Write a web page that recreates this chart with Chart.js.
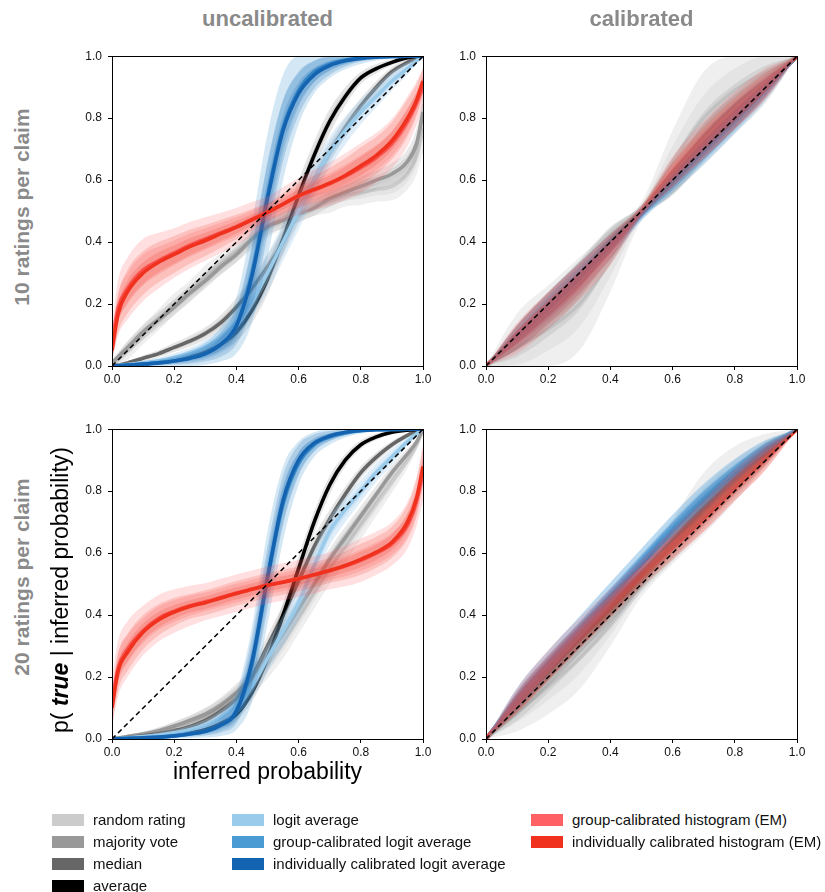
<!DOCTYPE html>
<html><head><meta charset="utf-8">
<script src="https://cdn.jsdelivr.net/npm/chart.js@4.4.1/dist/chart.umd.min.js"></script>
<style>
body{margin:0;width:825px;height:892px;background:#fff;position:relative;overflow:hidden;font-family:"Liberation Sans",Arial,Helvetica,sans-serif;}
canvas{position:absolute;}
.t{position:absolute;white-space:nowrap;}
.title{font-weight:bold;font-size:22px;line-height:22px;color:#8a8a8a;text-align:center;width:311px;top:8px;}
.rot{transform:translate(-50%,-50%) rotate(-90deg);}
.row{font-weight:bold;font-size:21px;line-height:21px;color:#8a8a8a;}
.axl{font-size:23px;line-height:23px;color:#000;}
.sw{position:absolute;width:32px;height:12px;}
.lt{position:absolute;font-size:15px;line-height:15px;color:#111;white-space:nowrap;}
</style></head><body>
<canvas id="c1" width="375" height="351" style="left:62px;top:43px"></canvas>
<canvas id="c2" width="375" height="351" style="left:436px;top:43px"></canvas>
<canvas id="c3" width="375" height="351" style="left:62px;top:416px"></canvas>
<canvas id="c4" width="375" height="351" style="left:436px;top:416px"></canvas>

<div class="t title" style="left:112px">uncalibrated</div>
<div class="t title" style="left:486px">calibrated</div>
<div class="t row rot" style="left:21px;top:207px">10 ratings per claim</div>
<div class="t row rot" style="left:21px;top:577px">20 ratings per claim</div>
<div class="t axl rot" style="left:60px;top:590px">p( <b><i>true</i></b> | inferred probability)</div>
<div class="t axl" style="left:112px;width:311px;text-align:center;top:760px">inferred probability</div>
<div id="legend"></div>

<script>
// ---------- categories / legend ----------
const SERIES_LABELS = ['random rating','majority vote','median','average','logit average','group-calibrated logit average','individually calibrated logit average','group-calibrated histogram (EM)','individually calibrated histogram (EM)'];
const SERIES_COLORS = ['#cccccc','#999999','#666666','#000000','#9acbeb','#4a9ad4','#1463b0','#ff6066','#f0311e'];
const BAND_ALPHA   = [0.32,0.22,0.16,0.1,0.32,0.24,0.2,0.2,0.18];
const TICK_VALUES = [0, 0.2, 0.4, 0.6, 0.8, 1.0];
const DIAG_X = [0, 1];
const DIAG_Y = [0, 1];

// ---------- x grids ----------
const XU = [0,0.02,0.05,0.1,0.15,0.2,0.25,0.3,0.35,0.4,0.45,0.5,0.55,0.6,0.65,0.7,0.75,0.8,0.85,0.9,0.95,0.98,1];
const XC = [0,0.1,0.2,0.3,0.4,0.5,0.6,0.7,0.8,0.9,1];

// ---------- panel A: 10 ratings, uncalibrated ----------
const A_random = [0,0.02,0.05,0.1,0.15,0.2,0.24,0.29,0.33,0.37,0.41,0.45,0.48,0.5,0.52,0.53,0.55,0.56,0.57,0.58,0.62,0.68,0.77];
const A_major  = [0.01,0.03,0.06,0.11,0.15,0.19,0.235,0.275,0.32,0.36,0.41,0.45,0.47,0.49,0.51,0.54,0.56,0.58,0.6,0.62,0.66,0.72,0.82];
const A_median = [0,0.003,0.01,0.025,0.04,0.06,0.08,0.105,0.14,0.19,0.25,0.32,0.4,0.5,0.6,0.69,0.77,0.84,0.9,0.95,0.98,0.995,1];
const A_avg    = [0,0.001,0.003,0.007,0.012,0.02,0.03,0.045,0.07,0.11,0.18,0.28,0.41,0.55,0.68,0.79,0.87,0.93,0.96,0.98,0.995,0.999,1];
const A_logit  = [0,0.002,0.005,0.01,0.017,0.027,0.04,0.06,0.09,0.14,0.21,0.3,0.4,0.5,0.6,0.69,0.76,0.82,0.87,0.92,0.96,0.985,1];
const A_glogit = [0,0.001,0.003,0.006,0.01,0.016,0.025,0.04,0.07,0.13,0.3,0.55,0.77,0.89,0.95,0.975,0.988,0.995,0.998,0.999,1,1,1];
const A_ilogit = [0,0.001,0.003,0.006,0.01,0.016,0.025,0.04,0.07,0.13,0.29,0.54,0.76,0.88,0.94,0.97,0.985,0.993,0.997,0.999,1,1,1];
const A_ghist  = [0.08,0.19,0.25,0.31,0.34,0.365,0.39,0.41,0.43,0.45,0.474,0.497,0.522,0.548,0.568,0.588,0.612,0.64,0.673,0.718,0.79,0.85,0.9];
const A_ihist  = [0.05,0.17,0.24,0.3,0.335,0.36,0.385,0.405,0.427,0.448,0.472,0.496,0.523,0.55,0.57,0.59,0.615,0.646,0.68,0.727,0.8,0.86,0.92];
const A_random_s = [0.01,0.02,0.03,0.03,0.035,0.035,0.035,0.035,0.035,0.035,0.035,0.035,0.035,0.035,0.035,0.035,0.035,0.04,0.04,0.045,0.05,0.06,0.08];
const A_major_s  = [0.01,0.015,0.02,0.025,0.025,0.025,0.025,0.025,0.025,0.025,0.025,0.025,0.025,0.025,0.025,0.025,0.025,0.03,0.03,0.035,0.04,0.05,0.06];
const A_median_s = [0,0.003,0.006,0.01,0.012,0.015,0.018,0.02,0.025,0.03,0.035,0.04,0.04,0.04,0.04,0.035,0.03,0.025,0.02,0.015,0.01,0.005,0];
const A_avg_s    = [0,0.001,0.002,0.004,0.006,0.008,0.01,0.014,0.02,0.03,0.04,0.05,0.05,0.05,0.045,0.04,0.03,0.02,0.015,0.01,0.005,0.002,0];
const A_logit_s  = [0,0.002,0.004,0.007,0.01,0.014,0.018,0.024,0.03,0.04,0.05,0.06,0.06,0.06,0.055,0.05,0.045,0.04,0.035,0.03,0.02,0.01,0];
const A_glogit_s = [0,0.002,0.004,0.008,0.012,0.018,0.026,0.036,0.055,0.09,0.16,0.2,0.17,0.11,0.07,0.045,0.03,0.02,0.012,0.007,0.003,0.001,0];
const A_ilogit_s = [0,0.001,0.003,0.005,0.008,0.012,0.018,0.025,0.04,0.06,0.1,0.12,0.1,0.07,0.045,0.03,0.018,0.01,0.006,0.004,0.002,0.001,0];
const A_ghist_s  = [0.06,0.09,0.1,0.1,0.09,0.08,0.075,0.07,0.065,0.06,0.055,0.05,0.055,0.06,0.065,0.07,0.075,0.08,0.08,0.08,0.08,0.07,0.06];
const A_ihist_s  = [0.04,0.06,0.07,0.07,0.065,0.06,0.055,0.05,0.045,0.04,0.035,0.03,0.035,0.04,0.045,0.05,0.055,0.06,0.06,0.06,0.06,0.05,0.04];

// ---------- panel B: 10 ratings, calibrated ----------
const B_random = [0,0.06,0.12,0.2,0.34,0.5,0.66,0.8,0.89,0.95,1];
const B_major  = [0,0.08,0.165,0.26,0.39,0.5,0.61,0.74,0.84,0.92,1];
const B_median = [0,0.09,0.18,0.275,0.395,0.5,0.605,0.725,0.82,0.91,1];
const B_avg    = [0,0.1,0.19,0.29,0.4,0.5,0.6,0.71,0.81,0.9,1];
const B_logit  = [0,0.095,0.19,0.287,0.386,0.49,0.595,0.698,0.797,0.895,1];
const B_glogit = [0,0.094,0.188,0.285,0.385,0.49,0.597,0.7,0.8,0.897,1];
const B_ilogit = [0,0.096,0.192,0.29,0.39,0.492,0.594,0.695,0.795,0.895,1];
const B_ghist  = [0,0.09,0.18,0.273,0.375,0.5,0.627,0.73,0.825,0.912,1];
const B_ihist  = [0,0.093,0.186,0.28,0.385,0.5,0.618,0.722,0.816,0.906,1];
const B_random_s = [0,0.11,0.14,0.15,0.1,0.03,0.1,0.15,0.14,0.1,0];
const B_major_s  = [0,0.05,0.07,0.08,0.06,0.02,0.06,0.08,0.07,0.05,0];
const B_median_s = [0,0.04,0.06,0.06,0.05,0.02,0.05,0.06,0.06,0.04,0];
const B_avg_s    = [0,0.03,0.04,0.04,0.03,0.015,0.03,0.04,0.04,0.03,0];
const B_logit_s  = [0,0.03,0.04,0.04,0.03,0.02,0.03,0.04,0.04,0.03,0];
const B_glogit_s = [0,0.04,0.05,0.05,0.04,0.02,0.04,0.05,0.05,0.04,0];
const B_ilogit_s = [0,0.02,0.03,0.03,0.025,0.015,0.025,0.03,0.03,0.02,0];
const B_ghist_s  = [0,0.05,0.06,0.06,0.05,0.02,0.05,0.06,0.06,0.05,0];
const B_ihist_s  = [0,0.04,0.05,0.05,0.04,0.015,0.04,0.05,0.05,0.04,0];

// ---------- panel C: 20 ratings, uncalibrated ----------
const C_random = [0,0.003,0.008,0.015,0.025,0.04,0.055,0.075,0.1,0.135,0.18,0.24,0.31,0.39,0.47,0.55,0.62,0.69,0.76,0.83,0.9,0.95,1];
const C_major  = [0,0.003,0.008,0.016,0.027,0.042,0.06,0.08,0.11,0.15,0.2,0.27,0.34,0.42,0.5,0.58,0.65,0.72,0.79,0.86,0.92,0.96,1];
const C_median = [0,0.002,0.005,0.01,0.017,0.027,0.04,0.06,0.09,0.13,0.2,0.3,0.4,0.51,0.62,0.71,0.79,0.86,0.91,0.95,0.98,0.995,1];
const C_avg    = [0,0.001,0.002,0.004,0.007,0.012,0.02,0.03,0.05,0.08,0.15,0.26,0.4,0.55,0.7,0.82,0.9,0.95,0.975,0.99,0.997,0.999,1];
const C_logit  = [0,0.002,0.004,0.008,0.013,0.02,0.03,0.045,0.07,0.11,0.17,0.26,0.35,0.44,0.56,0.67,0.74,0.8,0.86,0.91,0.96,0.985,1];
const C_glogit = [0,0.001,0.002,0.004,0.006,0.01,0.016,0.025,0.045,0.09,0.24,0.52,0.76,0.89,0.95,0.975,0.988,0.995,0.998,0.999,1,1,1];
const C_ilogit = [0,0.001,0.002,0.004,0.006,0.01,0.016,0.025,0.045,0.09,0.25,0.52,0.77,0.9,0.955,0.978,0.99,0.996,0.998,0.999,1,1,1];
const C_ghist  = [0.12,0.23,0.29,0.35,0.39,0.413,0.43,0.443,0.457,0.471,0.484,0.497,0.507,0.518,0.53,0.543,0.558,0.577,0.6,0.63,0.69,0.77,0.86];
const C_ihist  = [0.1,0.22,0.28,0.345,0.385,0.41,0.428,0.44,0.455,0.47,0.483,0.496,0.506,0.517,0.53,0.544,0.56,0.58,0.603,0.635,0.7,0.78,0.88];
const C_random_s = [0,0.002,0.004,0.008,0.012,0.016,0.02,0.025,0.03,0.035,0.04,0.045,0.05,0.05,0.05,0.05,0.05,0.045,0.04,0.035,0.025,0.015,0];
const C_major_s  = [0,0.002,0.004,0.007,0.01,0.013,0.016,0.02,0.024,0.028,0.032,0.035,0.035,0.035,0.035,0.035,0.035,0.032,0.028,0.024,0.018,0.01,0];
const C_median_s = [0,0.002,0.004,0.006,0.008,0.01,0.013,0.016,0.02,0.025,0.03,0.035,0.035,0.035,0.035,0.03,0.025,0.02,0.016,0.012,0.008,0.004,0];
const C_avg_s    = [0,0.001,0.002,0.003,0.004,0.006,0.008,0.01,0.015,0.02,0.03,0.04,0.04,0.04,0.035,0.03,0.02,0.014,0.01,0.006,0.003,0.001,0];
const C_logit_s  = [0,0.002,0.003,0.005,0.007,0.01,0.013,0.017,0.022,0.03,0.04,0.045,0.05,0.05,0.05,0.045,0.04,0.035,0.03,0.025,0.015,0.008,0];
const C_glogit_s = [0,0.001,0.002,0.004,0.006,0.009,0.013,0.02,0.035,0.06,0.12,0.15,0.12,0.07,0.04,0.025,0.015,0.009,0.005,0.003,0.001,0,0];
const C_ilogit_s = [0,0.001,0.002,0.003,0.004,0.006,0.009,0.014,0.024,0.04,0.08,0.1,0.08,0.05,0.028,0.016,0.01,0.006,0.003,0.002,0.001,0,0];
const C_ghist_s  = [0.08,0.09,0.09,0.08,0.075,0.07,0.065,0.06,0.06,0.06,0.06,0.06,0.06,0.06,0.06,0.06,0.065,0.07,0.07,0.07,0.075,0.08,0.09];
const C_ihist_s  = [0.06,0.06,0.06,0.055,0.05,0.045,0.04,0.04,0.04,0.04,0.04,0.04,0.04,0.04,0.04,0.04,0.045,0.05,0.05,0.05,0.055,0.06,0.06];

// ---------- panel D: 20 ratings, calibrated ----------
const D_random = [0,0.085,0.17,0.26,0.37,0.5,0.635,0.76,0.855,0.935,1];
const D_major  = [0,0.1,0.2,0.3,0.405,0.515,0.625,0.73,0.83,0.92,1];
const D_median = [0,0.11,0.215,0.318,0.42,0.525,0.63,0.735,0.834,0.922,1];
const D_avg    = [0,0.118,0.225,0.328,0.43,0.535,0.64,0.743,0.84,0.926,1];
const D_logit  = [0,0.135,0.25,0.36,0.47,0.58,0.69,0.79,0.875,0.945,1];
const D_glogit = [0,0.13,0.245,0.355,0.465,0.575,0.683,0.782,0.868,0.94,1];
const D_ilogit = [0,0.128,0.24,0.347,0.455,0.563,0.67,0.77,0.858,0.935,1];
const D_ghist  = [0,0.125,0.237,0.34,0.44,0.54,0.63,0.72,0.82,0.91,1];
const D_ihist  = [0,0.12,0.23,0.332,0.43,0.525,0.618,0.71,0.81,0.905,1];
const D_random_s = [0,0.06,0.09,0.1,0.07,0.04,0.07,0.1,0.09,0.05,0];
const D_major_s  = [0,0.04,0.05,0.05,0.05,0.04,0.05,0.05,0.05,0.04,0];
const D_median_s = [0,0.035,0.045,0.045,0.045,0.04,0.045,0.045,0.045,0.035,0];
const D_avg_s    = [0,0.03,0.035,0.035,0.035,0.03,0.035,0.035,0.035,0.03,0];
const D_logit_s  = [0,0.03,0.035,0.035,0.035,0.035,0.035,0.035,0.03,0.02,0];
const D_glogit_s = [0,0.035,0.04,0.04,0.04,0.04,0.04,0.04,0.035,0.025,0];
const D_ilogit_s = [0,0.025,0.03,0.03,0.03,0.03,0.03,0.03,0.025,0.02,0];
const D_ghist_s  = [0,0.04,0.05,0.05,0.045,0.04,0.045,0.05,0.05,0.04,0];
const D_ihist_s  = [0,0.035,0.04,0.04,0.04,0.035,0.04,0.04,0.04,0.035,0];

// ---------- building ----------
const FONT = '"Liberation Sans", Arial, Helvetica, sans-serif';
function rgba(hex,a){const n=parseInt(hex.slice(1),16);return 'rgba('+((n>>16)&255)+','+((n>>8)&255)+','+(n&255)+','+a+')';}
function pts(xs,ys){return xs.map((x,i)=>({x:x,y:ys[i]}));}
function clamp(v){return Math.max(0,Math.min(1,v));}
const base = {pointRadius:0, pointHoverRadius:0, clip:0, cubicInterpolationMode:'monotone'};

function panelDatasets(xs, centers, spreads, linesUnder){
  const bands=[], lines=[];
  centers.forEach((c,k)=>{
    const s=spreads[k], col=SERIES_COLORS[k], a=BAND_ALPHA[k];
    const grp=[];
    [1,0.5].forEach(f=>{
      grp.push(Object.assign({}, base, {data:pts(xs,c.map((v,i)=>clamp(v-s[i]*f))), borderWidth:0, borderColor:'rgba(0,0,0,0)', fill:false}));
      grp.push(Object.assign({}, base, {data:pts(xs,c.map((v,i)=>clamp(v+s[i]*f))), borderWidth:0, borderColor:'rgba(0,0,0,0)', fill:'-1', backgroundColor:rgba(col,a)}));
    });
    const ln = Object.assign({}, base, {data:pts(xs,c), borderColor:col, borderWidth:3.6, fill:false});
    if(linesUnder){ bands.push(...grp); lines.push(ln); }
    else { bands.push(...grp, ln); }
  });
  const ds = linesUnder ? lines.concat(bands) : bands;
  ds.push(Object.assign({}, base, {data:pts(DIAG_X,DIAG_Y), borderColor:'#000', borderWidth:1.6, borderDash:[5,3.5], fill:false, cubicInterpolationMode:'default', tension:0}));
  const n=ds.length; ds.forEach((d,i)=>{d.order=n-i;});
  return ds;
}

const framePlugin = {id:'frame', afterDatasetsDraw(chart){
  const a=chart.chartArea, ctx=chart.ctx; ctx.save(); ctx.strokeStyle='#000'; ctx.lineWidth=1;
  ctx.strokeRect(Math.round(a.left)+0.5, Math.round(a.top)+0.5, Math.round(a.right-a.left), Math.round(a.bottom-a.top)); ctx.restore();
}};

function axis(isX){
  return {type:'linear', min:0, max:1,
    ticks:{stepSize:0.2, autoSkip:false, maxRotation:0, color:'#111', padding:isX?2:6, font:{family:FONT,size:12},
      callback:(v)=>{const t=TICK_VALUES.find(tv=>Math.abs(tv-v)<1e-6); return t===undefined?'':t.toFixed(1);}},
    grid:{display:true, drawOnChartArea:false, drawTicks:true, tickLength:4, color:'#000', lineWidth:1},
    border:{display:false},
    afterFit:(s)=>{ if(isX) s.height=28; else s.width=50; }
  };
}

function makeChart(id, xs, centers, spreads, linesUnder){
  new Chart(document.getElementById(id), {
    type:'line',
    data:{datasets:panelDatasets(xs,centers,spreads,linesUnder)},
    options:{responsive:false, animation:false, devicePixelRatio:1, parsing:true,
      layout:{padding:{top:12,right:14,left:0,bottom:0}},
      plugins:{legend:{display:false}, tooltip:{enabled:false}},
      events:[],
      scales:{x:axis(true), y:axis(false)}
    },
    plugins:[framePlugin]
  });
}

makeChart('c1', XU, [A_random,A_major,A_median,A_avg,A_logit,A_glogit,A_ilogit,A_ghist,A_ihist],
  [A_random_s,A_major_s,A_median_s,A_avg_s,A_logit_s,A_glogit_s,A_ilogit_s,A_ghist_s,A_ihist_s], false);
makeChart('c2', XC, [B_random,B_major,B_median,B_avg,B_logit,B_glogit,B_ilogit,B_ghist,B_ihist],
  [B_random_s,B_major_s,B_median_s,B_avg_s,B_logit_s,B_glogit_s,B_ilogit_s,B_ghist_s,B_ihist_s], true);
makeChart('c3', XU, [C_random,C_major,C_median,C_avg,C_logit,C_glogit,C_ilogit,C_ghist,C_ihist],
  [C_random_s,C_major_s,C_median_s,C_avg_s,C_logit_s,C_glogit_s,C_ilogit_s,C_ghist_s,C_ihist_s], false);
makeChart('c4', XC, [D_random,D_major,D_median,D_avg,D_logit,D_glogit,D_ilogit,D_ghist,D_ihist],
  [D_random_s,D_major_s,D_median_s,D_avg_s,D_logit_s,D_glogit_s,D_ilogit_s,D_ghist_s,D_ihist_s], true);

// ---------- legend (HTML) ----------
const LEG_COL_X = [52, 232, 531];
const LEG_ROW_Y = [820, 842, 864, 886];
const LEG_LAYOUT = [[0,0],[0,1],[0,2],[0,3],[1,0],[1,1],[1,2],[2,0],[2,1]];
const leg = document.getElementById('legend');
SERIES_LABELS.forEach((lab,k)=>{
  const [c,r]=LEG_LAYOUT[k]; const x=LEG_COL_X[c], y=LEG_ROW_Y[r];
  const sw=document.createElement('div'); sw.className='sw'; sw.style.left=x+'px'; sw.style.top=(y-6)+'px'; sw.style.background=SERIES_COLORS[k]; leg.appendChild(sw);
  const t=document.createElement('div'); t.className='lt'; t.style.left=(x+41)+'px'; t.style.top=(y-8)+'px'; t.textContent=lab; leg.appendChild(t);
});
</script>
</body></html>
